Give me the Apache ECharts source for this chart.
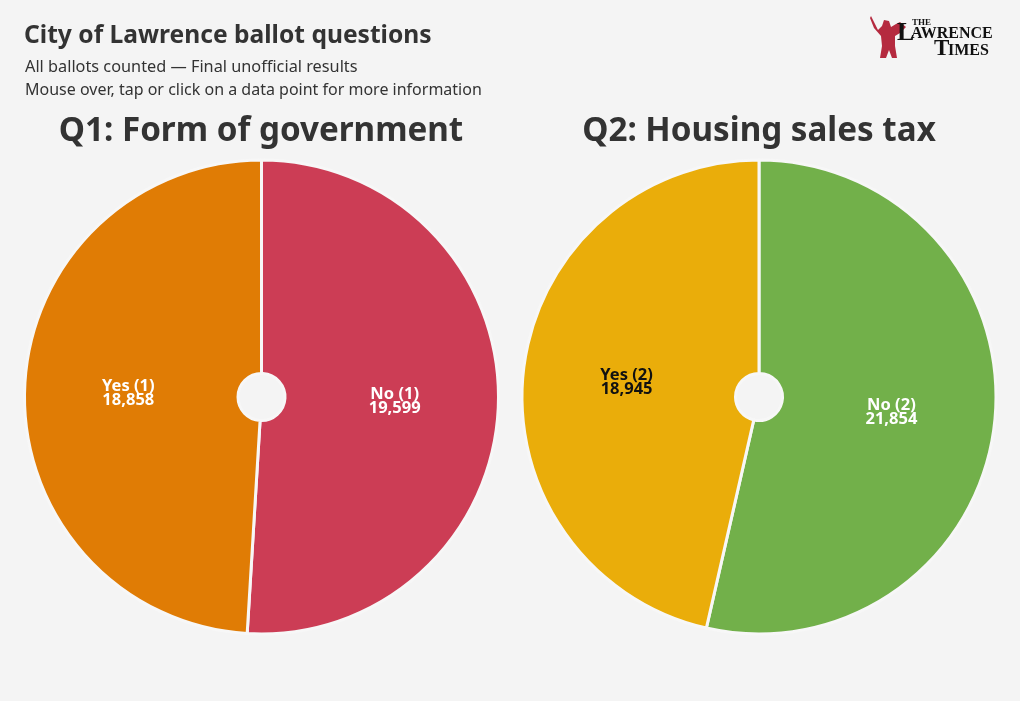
<!DOCTYPE html>
<html>
<head>
<meta charset="utf-8">
<script src="https://cdn.jsdelivr.net/npm/echarts@6/dist/echarts.min.js"></script>
<style>
html,body{margin:0;padding:0;background:#f4f4f4;}
#chart{width:1020px;height:701px;}
</style>
</head>
<body>
<div id="chart"></div>
<script>
const questions = ["Q1: Form of government", "Q2: Housing sales tax"];
const q1Names = ["No (1)", "Yes (1)"];
const q1Values = [19599, 18858];
const q1Colors = ["#cc3d55", "#e07c05"];
const q2Names = ["No (2)", "Yes (2)"];
const q2Values = [21854, 18945];
const q2Colors = ["#72b04a", "#eaad0a"];
const q2LabelColors = ["#ffffff", "#111111"];

const FONT = "Noto Sans";
const chart = echarts.init(document.getElementById('chart'), null, {renderer: 'canvas'});

function fmt(v){ return v.toLocaleString('en-US'); }

function makeData(names, values, colors, labelColors){
  return names.map((n, i) => ({
    name: n, value: values[i],
    itemStyle: {color: colors[i]},
    label: {color: labelColors ? labelColors[i] : '#ffffff'}
  }));
}

function pieSeries(center, data){
  return {
    type: 'pie',
    center: center,
    radius: [23.5, 237],
    startAngle: 90,
    clockwise: true,
    itemStyle: {borderColor: '#f7f7f7', borderWidth: 3},
    label: {
      show: true, position: 'inner',
      formatter: p => p.name + '\n' + fmt(p.value),
      fontFamily: FONT, fontWeight: 'bold', fontSize: 16.5, lineHeight: 14,
      color: '#fff'
    },
    labelLine: {show: false},
    emphasis: {scale: false},
    data: data
  };
}

chart.setOption({
  backgroundColor: '#f4f4f4',
  animation: false,
  title: [
    {text: 'City of Lawrence ballot questions', left: 24, top: 23, padding: 0,
     textStyle: {fontFamily: FONT, fontWeight: 'bold', fontSize: 24.6, color: '#333'}},
    {text: 'All ballots counted — Final unofficial results', left: 25, top: 59, padding: 0,
     textStyle: {fontFamily: FONT, fontWeight: 'normal', fontSize: 16.3, color: '#333'}},
    {text: 'Mouse over, tap or click on a data point for more information', left: 25, top: 82, padding: 0,
     textStyle: {fontFamily: FONT, fontWeight: 'normal', fontSize: 16, color: '#333'}},
    {text: questions[0], left: 261, top: 115, padding: 0, textAlign: 'center',
     textStyle: {fontFamily: FONT, fontWeight: 'bold', fontSize: 33.2, color: '#333'}},
    {text: questions[1], left: 759, top: 115, padding: 0, textAlign: 'center',
     textStyle: {fontFamily: FONT, fontWeight: 'bold', fontSize: 33.2, color: '#333'}}
  ],
  tooltip: {show: true},
  series: [
    pieSeries([261.5, 397], makeData(q1Names, q1Values, q1Colors)),
    pieSeries([759, 397], makeData(q2Names, q2Values, q2Colors, q2LabelColors))
  ],
  graphic: [
    {type: 'polygon', shape: {points: [[871,16],[875,24],[878,30],[882,26],[884,20],[889,21],[891,27],[896,24],[900,22],[906,27],[900,33],[895,36],[895,46],[897,58],[892,58],[889,50],[886,58],[880,58],[882,46],[881,36],[874,28],[870,18]]},
     style: {fill: '#b52a3f'}},
    {type: 'text', left: 912, top: 18, style: {text: 'THE', font: 'bold 9px "Liberation Serif"', fill: '#111'}},
    {type: 'text', left: 897, top: 20, style: {text: 'L', font: 'bold 26px "Liberation Serif"', fill: '#111'}},
    {type: 'text', left: 911, top: 26, style: {text: 'AWRENCE', font: 'bold 16px "Liberation Serif"', fill: '#111'}},
    {type: 'text', left: 934, top: 38, style: {text: 'T', font: 'bold 23px "Liberation Serif"', fill: '#111'}},
    {type: 'text', left: 948, top: 43, style: {text: 'IMES', font: 'bold 16px "Liberation Serif"', fill: '#111'}}
  ]
});
</script>
</body>
</html>
